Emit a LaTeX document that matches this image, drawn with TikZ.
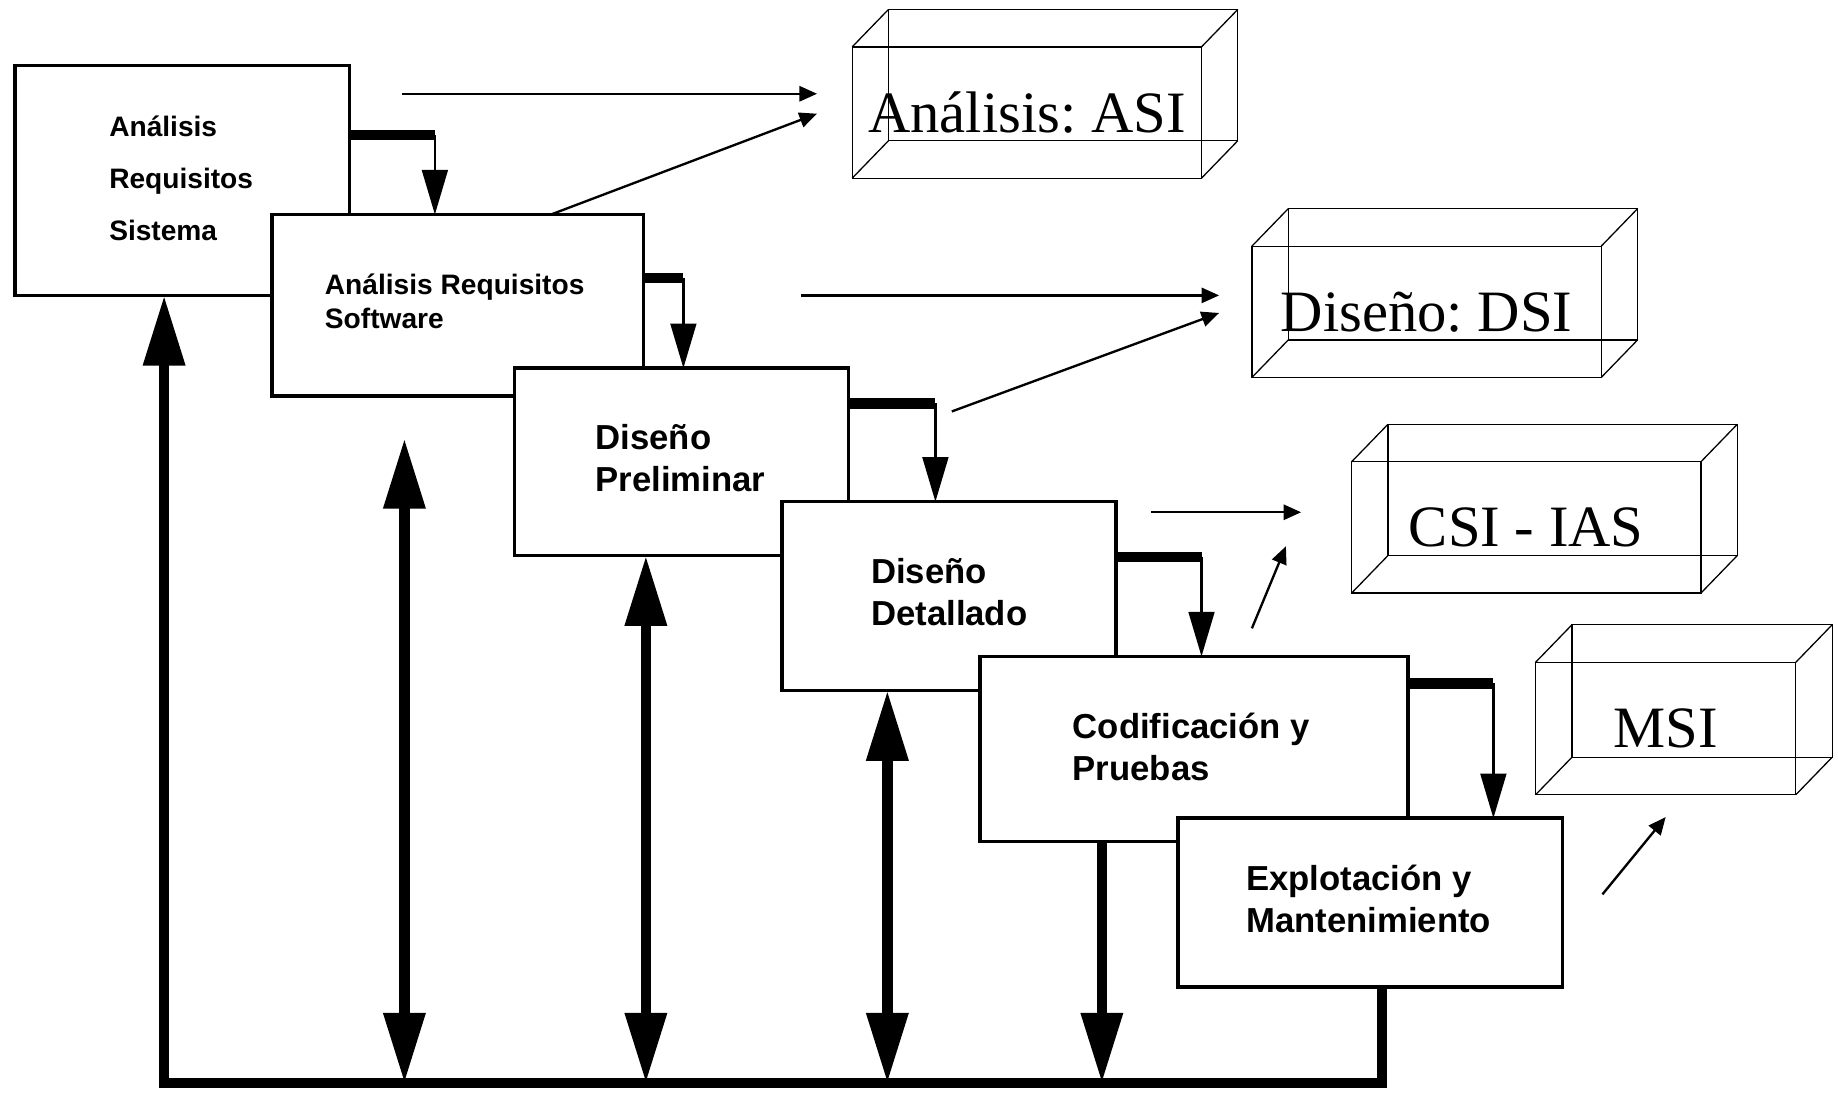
\documentclass[tikz,border=0pt]{standalone}
\usepackage{fontspec}
\setmainfont{Liberation Serif}
\setsansfont{Liberation Sans}
\usetikzlibrary{arrows.meta}
\frenchspacing

\begin{document}
\begin{tikzpicture}[x=1pt,y=-1pt,
        fase/.style={draw, line width=3pt, fill=white, inner sep=0pt, outer sep=0pt},
        rotulo/.style={anchor=west, align=left, inner sep=0pt, font=\sffamily\bfseries\fontsize{29.6}{36}\selectfont},
        caja/.style={draw, line width=1.1pt, inner sep=0pt, outer sep=0pt, font=\fontsize{50}{50}\selectfont},
        arista/.style={line width=1.1pt},
        barra/.style={line width=9pt},
        baja/.style={line width=2pt, >={Triangle[length=38pt,width=22pt]}},
        retro/.style={line width=9pt, >={Triangle[length=60pt,width=34pt]}},
        fina/.style={line width=2pt, >={Triangle[length=15pt,width=13pt]}}]
        \useasboundingbox (0, 0) rectangle (1568, 932);

        \node[fase, minimum width=285, minimum height=196] (sis) at (155.5, 154) {};
        \node[rotulo, font=\sffamily\bfseries\fontsize{24}{44.5}\selectfont] (sis-t) at (93, 152) {Análisis\\Requisitos\\Sistema};
        \node[fase, minimum width=317, minimum height=155] (ars) at (390.5, 260.5) {};
        \node[rotulo, font=\sffamily\bfseries\fontsize{24}{29}\selectfont] (ars-t) at (277, 257) {Análisis Requisitos\\Software};
        \node[fase, minimum width=285, minimum height=160] (pre) at (581.5, 394) {};
        \node[rotulo] (pre-t) at (508, 391) {Diseño\\Preliminar};
        \node[fase, minimum width=285, minimum height=161] (det) at (809.5, 508.5) {};
        \node[rotulo] (det-t) at (743, 505) {Diseño\\Detallado};
        \node[fase, minimum width=365, minimum height=158] (cod) at (1018.5, 639) {};
        \node[rotulo] (cod-t) at (915, 637) {Codificación y\\Pruebas};
        \node[fase, minimum width=328, minimum height=144] (exp) at (1169, 770) {};
        \node[rotulo] (exp-t) at (1063, 767) {Explotación y\\Mantenimiento};

        \coordinate (p1) at (371, 115);
        \coordinate (p2) at (583, 237);
        \coordinate (p3) at (798, 344);
        \coordinate (p4) at (1025, 475);
        \coordinate (p5) at (1274, 583);
        \draw[barra] (p1 -| sis.east) -- (p1);
        \draw[baja, ->] (p1) -- (p1 |- ars.north);
        \draw[barra] (p2 -| ars.east) -- (p2);
        \draw[baja, ->] (p2) -- (p2 |- pre.north);
        \draw[barra] (p3 -| pre.east) -- (p3);
        \draw[baja, ->] (p3) -- (p3 |- det.north);
        \draw[barra] (p4 -| det.east) -- (p4);
        \draw[baja, ->] (p4) -- (p4 |- cod.north);
        \draw[barra] (p5 -| cod.east) -- (p5);
        \draw[baja, ->] (p5) -- (p5 |- exp.north);

        \coordinate (b0) at (140, 924);
        \coordinate (b1) at (1179, 924);
        \coordinate (d1) at (345, 924);
        \coordinate (d1t) at (345, 374);
        \coordinate (d2) at (551, 924);
        \coordinate (d3) at (757, 924);
        \coordinate (d4) at (940, 924);
        \draw[retro, ->] (b1 |- exp.south) -- (b1) -- (b0) -- (b0 |- sis.south);
        \draw[retro, <->] (d1t) -- (d1);
        \draw[retro, <->] (d2 |- pre.south) -- (d2);
        \draw[retro, <->] (d3 |- det.south) -- (d3);
        \draw[retro, ->] (d4 |- cod.south) -- (d4);

        \node[caja, minimum width=298, minimum height=112] (asi) at (876, 96) {Análisis: ASI};
        \node[caja, minimum width=298, minimum height=112] (dsi) at (1217, 266) {Diseño: DSI};
        \node[caja, minimum width=298, minimum height=112] (csi) at (1302, 450) {CSI - IAS};
        \node[caja, minimum width=222, minimum height=113] (msi) at (1421, 621.5) {MSI};
        \foreach \c in {asi, dsi, csi, msi} {
            \draw[arista] ([shift={(31,-32)}]\c.north west) rectangle ([shift={(31,-32)}]\c.south east);
            \foreach \a in {north west, north east, south west, south east}
                \draw[arista] (\c.\a) -- ++(31, -32);
        }

        \coordinate (a1) at (343, 80);
        \coordinate (a1f) at (697, 80);
        \coordinate (a2) at (470, 183);
        \coordinate (a2f) at (697, 97);
        \coordinate (a3) at (683, 252);
        \coordinate (a3f) at (1040, 252);
        \coordinate (a4) at (812, 351);
        \coordinate (a4f) at (1040, 267);
        \coordinate (a5) at (982, 437);
        \coordinate (a5f) at (1110, 437);
        \coordinate (a6) at (1068, 536);
        \coordinate (a6f) at (1097, 466);
        \coordinate (a7) at (1367, 763);
        \coordinate (a7f) at (1421, 697);
        \draw[fina, ->] (a1) -- (a1f);
        \draw[fina, ->] (a2) -- (a2f);
        \draw[fina, ->] (a3) -- (a3f);
        \draw[fina, ->] (a4) -- (a4f);
        \draw[fina, ->] (a5) -- (a5f);
        \draw[fina, ->] (a6) -- (a6f);
        \draw[fina, ->] (a7) -- (a7f);
    \end{tikzpicture}
\end{document}
